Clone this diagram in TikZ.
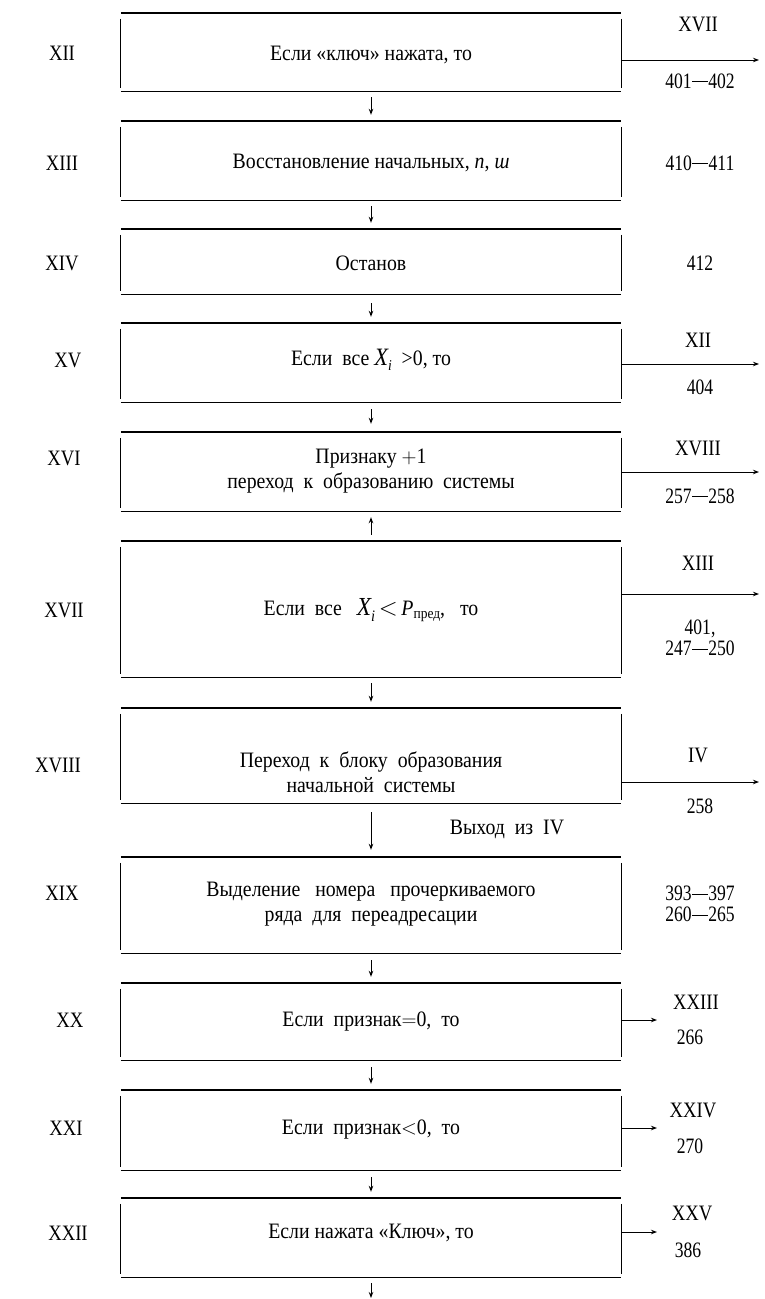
\documentclass[tikz,border=0pt]{standalone}
\usepackage{fontspec}
\setmainfont{Liberation Serif}[FakeStretch=0.9]
\newfontfamily\labfont{Liberation Serif}[FakeStretch=0.85]
\newfontfamily\numfont{Liberation Serif}[FakeStretch=0.8]
\usetikzlibrary{arrows.meta}
\newcommand\blkframe[1]{%
  \draw[hline] (#1.north west) -- (#1.north east);
  \draw[hline] (#1.south west) -- (#1.south east);
  \draw[vline] ([yshift=-6pt]#1.north west) -- ([yshift=3pt]#1.south west);
  \draw[vline] ([yshift=-6pt]#1.north east) -- ([yshift=3pt]#1.south east);}
\newcommand\dd{\kern0.4pt\rule[0.26em]{0.72em}{0.06em}\kern0.4pt}
\begin{document}
\begin{tikzpicture}[x=1pt,y=-1pt,
  blk/.style={draw=none,rectangle,minimum width=500pt,inner sep=0pt},
  hline/.style={line width=1.4pt},
  vline/.style={line width=1pt},
  arr/.style={line width=1pt,-{Stealth[length=6pt,width=4.5pt]}},
  txt/.style={font=\fontsize{22}{25}\selectfont,align=center,inner sep=0pt},
  lab/.style={font=\labfont\fontsize{22}{24}\selectfont,inner sep=0pt},
  num/.style={font=\numfont\fontsize{22}{21}\selectfont,inner sep=0pt,align=center},
]
\useasboundingbox (0,0) rectangle (765,1299);

% boxes
\node[blk,minimum height=78pt]  (b12) at (371,52)     {};
\node[blk,minimum height=79pt]  (b13) at (371,160.5)  {};
\node[blk,minimum height=65pt]  (b14) at (371,261.5)  {};
\node[blk,minimum height=79pt]  (b15) at (371,362.5)  {};
\node[blk,minimum height=79pt]  (b16) at (371,471.5)  {};
\node[blk,minimum height=136pt] (b17) at (371,609)    {};
\node[blk,minimum height=95pt]  (b18) at (371,755.5)  {};
\node[blk,minimum height=96pt]  (b19) at (371,905)    {};
\node[blk,minimum height=77pt]  (b20) at (371,1021.5) {};
\node[blk,minimum height=80pt]  (b21) at (371,1130)   {};
\node[blk,minimum height=79pt]  (b22) at (371,1237.5) {};
\foreach \b in {b12,b13,b14,b15,b16,b17,b18,b19,b20,b21,b22}{\blkframe{\b}}

% texts
\node[txt] (t12) at (371,55)   {Если «ключ» нажата, то};
\node[txt] (t13) at (371,163)  {Восстановление начальных, \textit{n}, \textit{ш}};
\node[txt] (t14) at (371,263)  {Останов};
\node[txt] (t15) at (371,360)  {Если\ \ все {\fontsize{25}{25}\selectfont\itshape X}\raisebox{-5pt}{\fontsize{15}{15}\selectfont\itshape i}\ \ >0, то};
\node[txt] (t16) at (371,471)  {Признаку $+$1\\переход\ \ к\ \ образованию\ \ системы};
\node[txt] (t17) at (371,610)  {Если\ \ все\ \ \ {\fontsize{26}{26}\selectfont\itshape X}\raisebox{-6pt}{\fontsize{16}{16}\selectfont\itshape i}\,{\fontsize{25}{25}\selectfont$<$}\,{\itshape P}\raisebox{-3pt}{\fontsize{15}{15}\selectfont пред},\ \ \ то};
\node[txt] (t18) at (371,772)  {Переход\ \ к\ \ блоку\ \ образования\\начальной\ \ системы};
\node[txt] (t19) at (371,904)  {Выделение\ \ \ номера\ \ \ прочеркиваемого\\ряда\ \ для\ \ переадресации};
\node[txt] (t20) at (371,1022) {Если\ \ признак$=$0,\ \ то};
\node[txt] (t21) at (371,1130) {Если\ \ признак$<$0,\ \ то};
\node[txt] (t22) at (371,1233) {Если нажата «Ключ», то};

% left labels
\node[lab] (l12) at (62,53)   {XII};
\node[lab] (l13) at (62,163)  {XIII};
\node[lab] (l14) at (62,263)  {XIV};
\node[lab] (l15) at (68,360)  {XV};
\node[lab] (l16) at (64,458)  {XVI};
\node[lab] (l17) at (64,610)  {XVII};
\node[lab] (l18) at (58,765)  {XVIII};
\node[lab] (l19) at (62,893)  {XIX};
\node[lab] (l20) at (70,1020) {XX};
\node[lab] (l21) at (66,1128) {XXI};
\node[lab] (l22) at (68,1233) {XXII};

% vertical connectors
\draw[arr] ([yshift=-6pt]b12.south) -- ([yshift=6pt]b13.north);
\draw[arr] ([yshift=-6pt]b13.south) -- ([yshift=6pt]b14.north);
\draw[arr] ([yshift=-9pt]b14.south) -- ([yshift=6pt]b15.north);
\draw[arr] ([yshift=-7pt]b15.south) -- ([yshift=8pt]b16.north);
\draw[arr] ([yshift=6pt]b17.north) -- ([yshift=-6pt]b16.south);
\draw[arr] ([yshift=-6pt]b17.south) -- ([yshift=6pt]b18.north);
\draw[arr] ([yshift=-9pt]b18.south) -- ([yshift=7pt]b19.north);
\draw[arr] ([yshift=-7pt]b19.south) -- ([yshift=6pt]b20.north);
\draw[arr] ([yshift=-7pt]b20.south) -- ([yshift=6pt]b21.north);
\draw[arr] ([yshift=-7pt]b21.south) -- ([yshift=6pt]b22.north);
\coordinate (end) at (371,1298);
\draw[arr] ([yshift=-6pt]b22.south) -- (end);
\node[txt] (exit) at (507,829) {Выход\ \ из\ \ IV};

% right exits (long)
\coordinate (e12) at (759,60);
\draw[arr] (b12.east |- e12) -- (e12);
\node[lab] (r12) at (698,24) {XVII};
\node[num] (n12) at (700,81) {401\dd402};

\node[num] (n13) at (700,163) {410\dd411};
\node[num] (n14) at (700,263) {412};

\coordinate (e15) at (759,364);
\draw[arr] (b15.east |- e15) -- (e15);
\node[lab] (r15) at (698,340) {XII};
\node[num] (n15) at (700,387) {404};

\coordinate (e16) at (759,472);
\draw[arr] (b16.east |- e16) -- (e16);
\node[lab] (r16) at (698,448) {XVIII};
\node[num] (n16) at (700,496) {257\dd258};

\coordinate (e17) at (759,594);
\draw[arr] (b17.east |- e17) -- (e17);
\node[lab] (r17) at (698,563) {XIII};
\node[num] (n17) at (700,638) {401,\\247\dd250};

\coordinate (e18) at (759,782);
\draw[arr] (b18.east |- e18) -- (e18);
\node[lab] (r18) at (698,755) {IV};
\node[num] (n18) at (700,806) {258};

\node[num] (n19) at (700,904) {393\dd397\\260\dd265};

% right exits (short)
\coordinate (e20) at (657,1020);
\draw[arr] (b20.east |- e20) -- (e20);
\node[lab] (r20) at (696,1002) {XXIII};
\node[num] (n20) at (690,1037) {266};

\coordinate (e21) at (657,1128);
\draw[arr] (b21.east |- e21) -- (e21);
\node[lab] (r21) at (693,1110) {XXIV};
\node[num] (n21) at (690,1146) {270};

\coordinate (e22) at (657,1232);
\draw[arr] (b22.east |- e22) -- (e22);
\node[lab] (r22) at (692,1213) {XXV};
\node[num] (n22) at (688,1250) {386};
\end{tikzpicture}
\end{document}
